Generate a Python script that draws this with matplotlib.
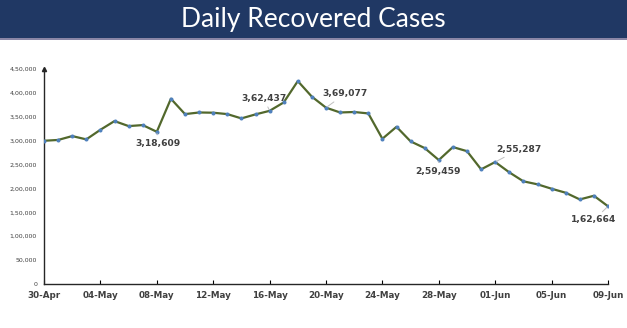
import matplotlib.pyplot as plt
from matplotlib.patches import Rectangle
import numpy as np

# daily recovered cases, 30-Apr .. 09-Jun
values = [299800, 301500, 309600, 302700, 322800, 341000, 330500, 332600,
          318609, 387700, 355600, 359000, 358500, 355600, 346600, 355000,
          362437, 380000, 424700, 392000, 369077, 359000, 360000, 357000,
          304000, 329000, 298500, 284500, 259459, 286600, 278000, 240000,
          255287, 233700, 214900, 208600, 199400, 191000, 177000, 184700,
          162664]
days = np.arange(len(values))
tick_days = [0, 4, 8, 12, 16, 20, 24, 28, 32, 36, 40]
tick_labels = ['30-Apr', '04-May', '08-May', '12-May', '16-May', '20-May',
               '24-May', '28-May', '01-Jun', '05-Jun', '09-Jun']
yticks = np.arange(0, 450001, 50000)

# labelled points: (day index, text position day, text position value)
callouts = [(8, 8.1, 294000), (16, 15.6, 388500), (20, 21.35, 398000),
            (28, 27.95, 236400), (32, 33.7, 281800), (40, 39.0, 134000)]


def indian(n):
    s = str(int(n))
    if len(s) <= 3:
        return s
    head, tail = s[:-3], s[-3:]
    parts = []
    while len(head) > 2:
        parts.insert(0, head[-2:])
        head = head[:-2]
    if head:
        parts.insert(0, head)
    return ','.join(parts) + ',' + tail


fig = plt.figure(figsize=(6.27, 3.28), dpi=100)
fig.patch.set_facecolor('white')

# title banner
fig.patches.append(Rectangle((0, 1 - 39 / 328), 1, 39 / 328, transform=fig.transFigure,
                             facecolor='#203864', edgecolor='none'))
fig.patches.append(Rectangle((0, 1 - 40 / 328), 1, 2 / 328, transform=fig.transFigure,
                             facecolor='#8a86a6', edgecolor='none'))
fig.text(0.5, 1 - 19 / 328, 'Daily Recovered Cases', color='white', fontsize=19,
         family='Lato', ha='center', va='center')

ax = fig.add_axes([44 / 627, 44 / 328, 564 / 627, 215 / 328])
ax.plot(days, values, color='#52682c', lw=1.6, marker='o', ms=1.9,
        mfc='#4F81BD', mec='#4F81BD', zorder=3)

ax.set_xlim(0, 40)
ax.set_ylim(0, 450000)
ax.set_xticks(tick_days)
ax.set_xticklabels(tick_labels, fontsize=6.3, fontweight='bold', color='#404040')
ax.set_yticks(yticks)
ax.set_yticklabels([indian(v) for v in yticks], fontsize=4.5, color='#404040')
ax.tick_params(axis='x', direction='in', length=3, width=0.8, pad=5)
ax.tick_params(axis='y', length=0, pad=5)

for side in ['top', 'right']:
    ax.spines[side].set_visible(False)
for side in ['left', 'bottom']:
    ax.spines[side].set_color('#262626')
    ax.spines[side].set_linewidth(1)
ax.plot(0, 1, marker='^', color='#262626', ms=3, transform=ax.transAxes, clip_on=False)

for d, tx, ty in callouts:
    ax.annotate(indian(values[d]), xy=(d, values[d]), xytext=(tx, ty),
                fontsize=6.6, fontweight='semibold', color='#404040',
                ha='center', va='center',
                arrowprops=dict(arrowstyle='-', color='#bfbfbf', lw=0.7,
                                shrinkA=1, shrinkB=1))

fig.savefig('out.png', dpi=100)
